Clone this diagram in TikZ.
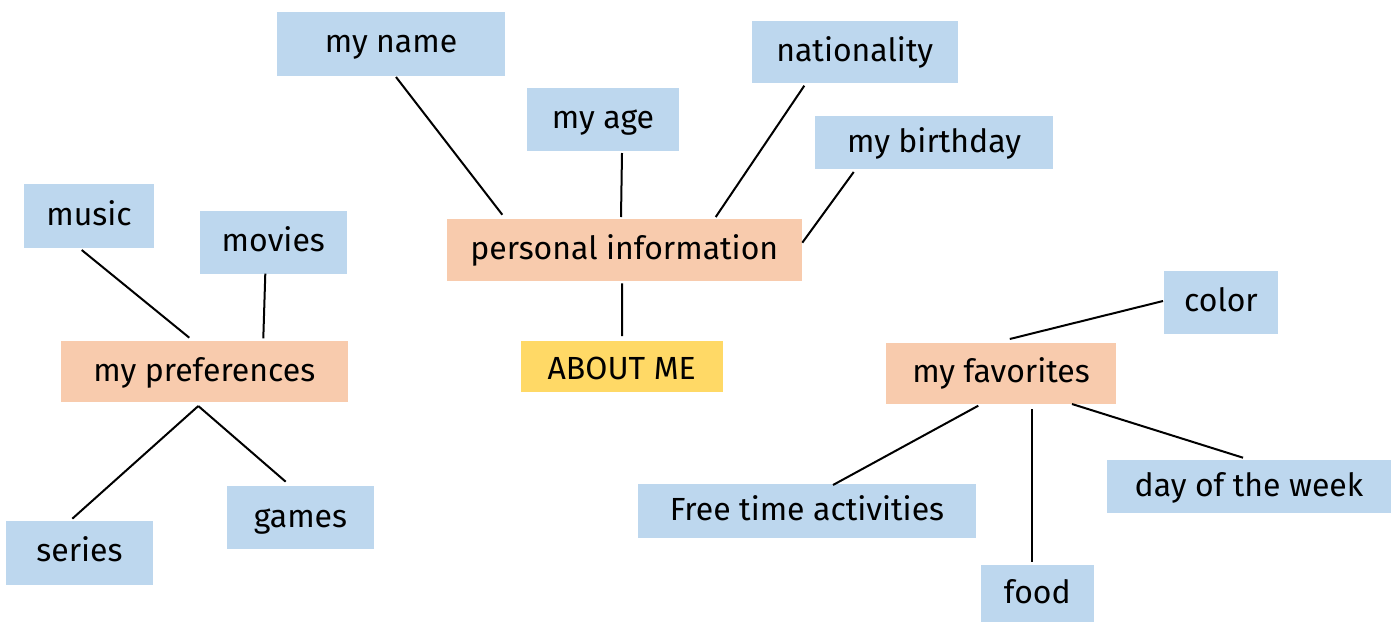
\documentclass[tikz,border=0pt]{standalone}
\usepackage{fontspec}
\setmainfont{Fira Sans}
\usetikzlibrary{calc}
\definecolor{leafblue}{HTML}{BDD7EE}
\definecolor{topicorange}{HTML}{F8CBAD}
\definecolor{rootyellow}{HTML}{FFD966}
\tikzset{
  box/.style={inner sep=0pt,font=\fontsize{24}{28}\selectfont,text=black,
    text height=14pt,text depth=0pt},
  boxsize/.style 2 args={minimum width=#1*0.75pt,minimum height=#2*0.75pt},
  leaf/.style={box,fill=leafblue},
  topic/.style={box,fill=topicorange},
  root/.style={box,fill=rootyellow,text height=20pt},
  link/.style={line width=1.5pt,black}
}
\begin{document}
\begin{tikzpicture}[x=0.75pt,y=-0.75pt]
  \useasboundingbox (0,0) rectangle (1398,622);
  % centre and its topics
  \node[root,boxsize={202}{51}] (about) at (621.7,366.3) {ABOUT ME};
  \node[topic,boxsize={355}{62}] (pinfo) at (624.3,250) {personal information};
  \node[topic,boxsize={287}{61}] (pref) at (204.3,371.7) {my preferences};
  \node[topic,boxsize={230}{61}] (fav) at (1001,373.5) {my favorites};
  % personal information
  \node[leaf,boxsize={228}{64}] (myname) at (391,43.5) {my name};
  \node[leaf,boxsize={152}{63}] (myage) at (603,119.5) {my age};
  \node[leaf,boxsize={206}{62}] (nation) at (854.7,52.3) {nationality};
  \node[leaf,boxsize={238}{53}] (bday) at (934,142.7) {my birthday};
  % preferences
  \node[leaf,boxsize={130}{64}] (music) at (89,216) {music};
  \node[leaf,boxsize={147}{63}] (movies) at (273.3,242) {movies};
  \node[leaf,boxsize={147}{64}] (series) at (79.5,552.5) {series};
  \node[leaf,boxsize={147}{63}] (games) at (300.5,517.7) {games};
  % favorites
  \node[leaf,boxsize={114}{63}] (color) at (1221,302.3) {color};
  \node[leaf,boxsize={338}{54}] (free) at (807,511.3) {Free time activities};
  \node[leaf,boxsize={284}{53}] (day) at (1249,486.7) {day of the week};
  \node[leaf,boxsize={113}{57}] (food) at (1037.3,593.7) {food};
  % connectors
  \draw[link] ($(myname)+(5,33.5)$) -- ($(pinfo)+(-122,-35.3)$);
  \draw[link] ($(myage)+(19,33.5)$) -- ($(pinfo)+(-3.3,-33)$);
  \draw[link] ($(nation)+(-50.4,33.4)$) -- ($(pinfo)+(91.4,-33)$);
  \draw[link] ($(bday)+(-80.3,29.3)$) -- ($(pinfo)+(178,-7.3)$);
  \draw[link] ($(pinfo)+(-2.3,33.3)$) -- ($(about)+(0.3,-30.3)$);
  \draw[link] ($(music)+(-7.3,34)$) -- ($(pref)+(-15,-34)$);
  \draw[link] ($(movies)+(-8,31.7)$) -- ($(pref)+(59,-33.4)$);
  \draw[link] ($(pref)+(-6,34.3)$) -- ($(series)+(-7.2,-33.8)$);
  \draw[link] ($(pref)+(-6,34.3)$) -- ($(games)+(-14.8,-36)$);
  \draw[link] ($(color)+(-58,-1.3)$) -- ($(fav)+(8.8,-34.5)$);
  \draw[link] ($(fav)+(-22.7,32.2)$) -- ($(free)+(26,-26.3)$);
  \draw[link] ($(fav)+(31,35.5)$) -- ($(food)+(-5.3,-31.4)$);
  \draw[link] ($(fav)+(71,30.5)$) -- ($(day)+(-6,-29)$);
\end{tikzpicture}
\end{document}
